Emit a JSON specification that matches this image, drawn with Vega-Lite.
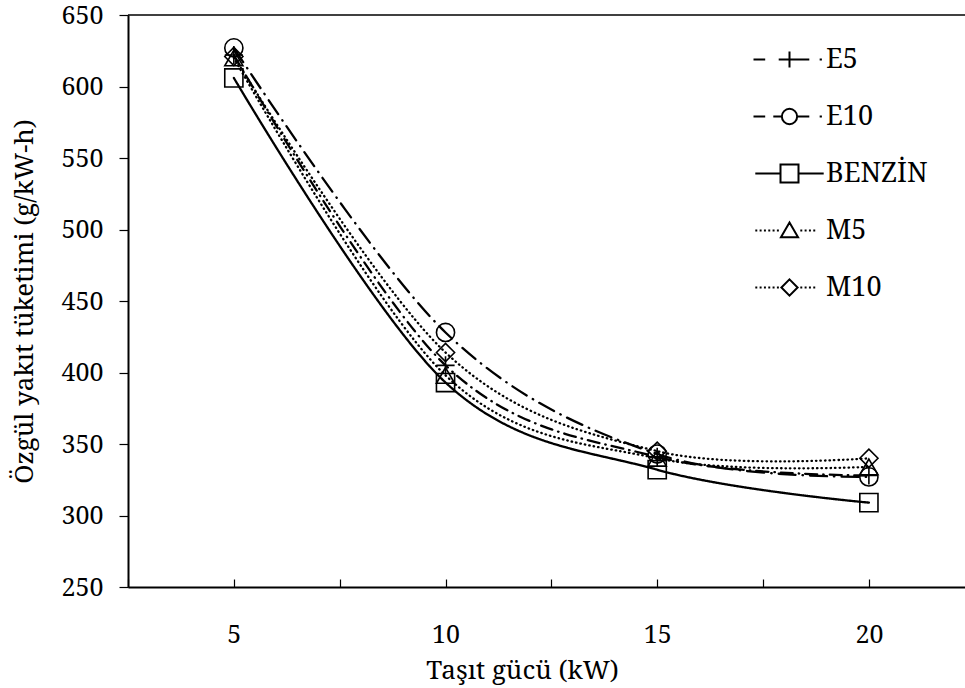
{
  "$schema": "https://vega.github.io/schema/vega-lite/v6.json",
  "width": 837,
  "height": 572,
  "autosize": {"type": "none"},
  "padding": {"left": 128, "top": 15, "right": 0, "bottom": 101},
  "background": "white",
  "config": {
    "view": {"stroke": null},
    "font": "Noto Serif",
    "axis": {
      "grid": false,
      "domainColor": "black",
      "domainWidth": 2,
      "tickColor": "black",
      "tickWidth": 1.2,
      "labelFont": "Noto Serif",
      "labelFontSize": 25,
      "labelColor": "black",
      "titleFont": "Noto Serif",
      "titleFontSize": 26,
      "titleFontWeight": "normal",
      "titleColor": "black"
    }
  },
  "data": {
    "values": [
      {"p": 5, "s": "E5", "v": 622},
      {"p": 10, "s": "E5", "v": 405},
      {"p": 15, "s": "E5", "v": 341},
      {"p": 20, "s": "E5", "v": 328},
      {"p": 5, "s": "E10", "v": 627},
      {"p": 10, "s": "E10", "v": 428},
      {"p": 15, "s": "E10", "v": 343},
      {"p": 20, "s": "E10", "v": 327},
      {"p": 5, "s": "BENZİN", "v": 606},
      {"p": 10, "s": "BENZİN", "v": 393},
      {"p": 15, "s": "BENZİN", "v": 332},
      {"p": 20, "s": "BENZİN", "v": 309},
      {"p": 5, "s": "M5", "v": 620},
      {"p": 10, "s": "M5", "v": 398},
      {"p": 15, "s": "M5", "v": 340},
      {"p": 20, "s": "M5", "v": 334},
      {"p": 5, "s": "M10", "v": 621},
      {"p": 10, "s": "M10", "v": 414},
      {"p": 15, "s": "M10", "v": 345},
      {"p": 20, "s": "M10", "v": 340}
    ]
  },
  "layer": [
    {
      "data": {"values": [{}]},
      "mark": {"type": "rule", "color": "black", "strokeWidth": 1.5},
      "encoding": {"y": {"datum": 650, "type": "quantitative"}}
    },
    {
      "mark": {"type": "line", "interpolate": "cardinal", "strokeWidth": 2.3, "strokeCap": "round", "color": "black"},
      "encoding": {
        "x": {
          "field": "p",
          "type": "quantitative",
          "scale": {"domain": [2.5, 22.27], "nice": false, "zero": false},
          "axis": {
            "values": [2.5, 5, 7.5, 10, 12.5, 15, 17.5, 20],
            "labelExpr": "datum.value % 5 == 0 ? datum.label : ''",
            "tickSize": -8,
            "labelPadding": 43,
            "titlePadding": 10,
            "titleX": 394,
            "titleAlign": "center"
          },
          "title": "Taşıt gücü (kW)"
        },
        "y": {
          "field": "v",
          "type": "quantitative",
          "scale": {"domain": [250, 650], "nice": false, "zero": false},
          "axis": {"values": [250, 300, 350, 400, 450, 500, 550, 600, 650], "tickSize": 9, "labelPadding": 16, "titlePadding": 24},
          "title": "Özgül yakıt tüketimi (g/kW-h)"
        },
        "strokeDash": {
          "field": "s",
          "type": "nominal",
          "scale": {
            "domain": ["E5", "E10", "BENZİN", "M5", "M10"],
            "range": [[12, 6, 0.5, 6], [17, 7, 0.5, 7], [1, 0], [0.5, 4], [0.5, 4]]
          },
          "legend": null
        }
      }
    },
    {
      "mark": {"type": "point", "filled": false, "size": 330, "strokeWidth": 1.6, "color": "black", "opacity": 1},
      "encoding": {
        "x": {"field": "p", "type": "quantitative"},
        "y": {"field": "v", "type": "quantitative"},
        "shape": {
          "field": "s",
          "type": "nominal",
          "scale": {
            "domain": ["E5", "E10", "BENZİN", "M5", "M10"],
            "range": ["M-1,0H1M0,-1V1", "circle", "square", "triangle-up", "diamond"]
          },
          "legend": null
        }
      }
    },
    {
      "mark": {"type": "point", "filled": false, "opacity": 0, "color": "black"},
      "encoding": {
        "x": {"field": "p", "type": "quantitative"},
        "y": {"field": "v", "type": "quantitative"},
        "shape": {
          "field": "s",
          "type": "nominal",
          "scale": {
            "domain": ["E5", "E10", "BENZİN", "M5", "M10"],
            "range": [
              "M-4,0H-2.7M-1.2,0H2.2M0,-0.9V0.9M3.35,0H3.6",
              "M-4,0H-2.7M-1.8,0H-0.85M0.85,0A0.85,0.85,0,1,1,-0.85,0A0.85,0.85,0,1,1,0.85,0M0.85,0H2.2M3.35,0H3.6",
              "M-3.8,0H-1M1,0H3.8M-1,-1H1V1H-1Z",
              "M-3.8,0h0.22M-3.32,0h0.22M-2.84,0h0.22M-2.36,0h0.22M-1.88,0h0.22M-1.4,0h0.22M0,-0.9L0.95,0.75H-0.95ZM1.2,0h0.22M1.68,0h0.22M2.16,0h0.22M2.64,0h0.22",
              "M-3.8,0h0.22M-3.32,0h0.22M-2.84,0h0.22M-2.36,0h0.22M-1.88,0h0.22M-1.4,0h0.22M0,-0.9L0.9,0L0,0.9L-0.9,0ZM1.2,0h0.22M1.68,0h0.22M2.16,0h0.22M2.64,0h0.22"
            ]
          },
          "legend": {
            "orient": "none",
            "legendX": 648,
            "legendY": 31,
            "title": null,
            "padding": 0,
            "symbolSize": 324,
            "symbolStrokeWidth": 2,
            "symbolStrokeColor": "black",
            "symbolFillColor": "transparent",
            "symbolOpacity": 1,
            "labelFont": "Noto Serif",
            "labelFontSize": 27,
            "labelColor": "black",
            "labelOffset": 23,
            "rowPadding": 29
          }
        }
      }
    }
  ],
  "resolve": {"scale": {"shape": "independent"}, "legend": {"shape": "independent"}}
}
